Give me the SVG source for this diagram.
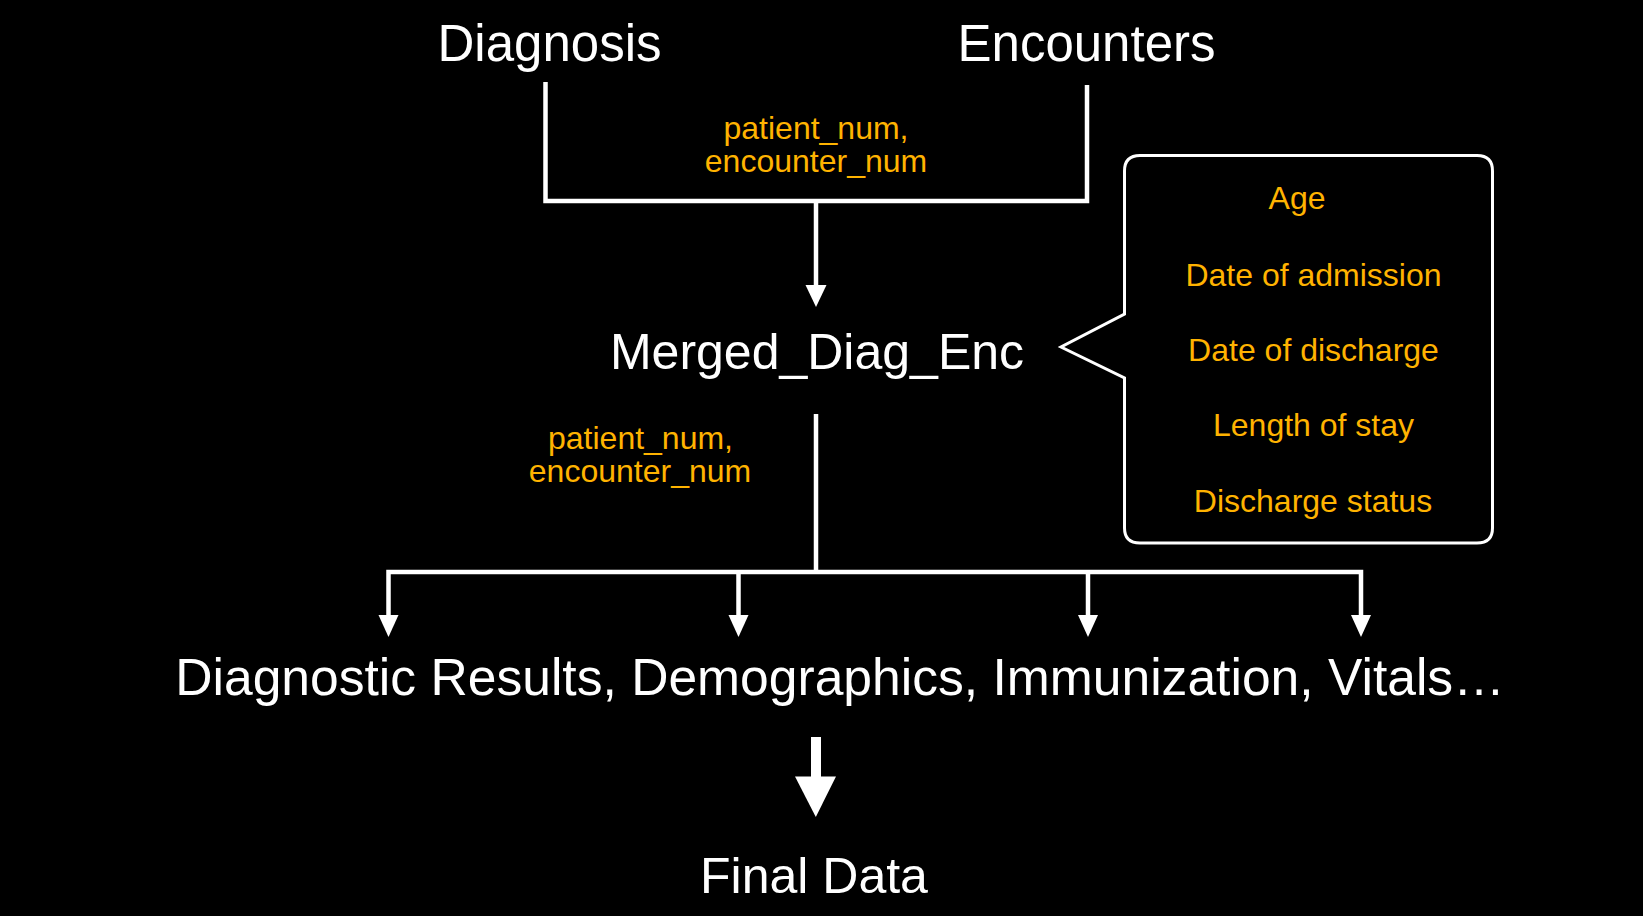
<svg xmlns="http://www.w3.org/2000/svg" width="1643" height="916" viewBox="0 0 1643 916">
<defs>
<style>
.t{font-family:"Liberation Sans",Arial,Helvetica,sans-serif;fill:#ffffff;text-anchor:middle}
.big{font-size:50px}
.o{font-family:"Liberation Sans",Arial,Helvetica,sans-serif;fill:#FFB300;text-anchor:middle;font-size:32px}
.ln{stroke:#ffffff;stroke-width:4.5;fill:none}
</style>
</defs>
<rect width="1643" height="916" fill="#000000"/>
<g id="connectors">
<polyline class="ln" points="545.5,82 545.5,201 1087,201 1087,85" stroke-linejoin="miter"/>
<line class="ln" x1="816" y1="201" x2="816" y2="285"/>
<path d="M805.5,285 L826.5,285 L816,307 Z" fill="#ffffff"/>
<line class="ln" x1="816" y1="414" x2="816" y2="572"/>
<polyline class="ln" points="388.5,615 388.5,572 1361,572 1361,615"/>
<line class="ln" x1="738.5" y1="572" x2="738.5" y2="615"/>
<line class="ln" x1="1088" y1="572" x2="1088" y2="615"/>
<path d="M378.5,615 L398.5,615 L388.5,637 Z" fill="#ffffff"/>
<path d="M728.5,615 L748.5,615 L738.5,637 Z" fill="#ffffff"/>
<path d="M1078,615 L1098,615 L1088,637 Z" fill="#ffffff"/>
<path d="M1351,615 L1371,615 L1361,637 Z" fill="#ffffff"/>
<rect x="811" y="737" width="10" height="41" fill="#ffffff"/>
<path d="M795,776.5 L836,776.5 L815.8,817 Z" fill="#ffffff"/>
</g>
<g id="diagnosis"><text class="t big" x="549.5" y="61" style="font-size:51px">Diagnosis</text></g>
<g id="encounters"><text class="t big" x="1086.5" y="61" style="font-size:51px">Encounters</text></g>
<g id="join-keys-1">
<text class="o" x="816" y="139">patient_num,</text>
<text class="o" x="816" y="172">encounter_num</text>
</g>
<g id="merged"><text class="t big" x="817" y="369">Merged_Diag_Enc</text></g>
<g id="callout">
<path d="M1140,155.5 L1477,155.5 Q1492.5,155.5 1492.5,171 L1492.5,528 Q1492.5,543 1477,543 L1140,543 Q1124.5,543 1124.5,528 L1124.5,378 L1061,347 L1124.5,314 L1124.5,171 Q1124.5,155.5 1140,155.5 Z" fill="#000000" stroke="#ffffff" stroke-width="3"/>
<text class="o" x="1297" y="209">Age</text>
<text class="o" x="1313.5" y="285.5">Date of admission</text>
<text class="o" x="1313.5" y="360.5">Date of discharge</text>
<text class="o" x="1313.5" y="436">Length of stay</text>
<text class="o" x="1313" y="511.5">Discharge status</text>
</g>
<g id="join-keys-2">
<text class="o" x="640.5" y="448.5">patient_num,</text>
<text class="o" x="640" y="482">encounter_num</text>
</g>
<g id="sources"><text class="t big" x="840" y="695" style="font-size:51.6px">Diagnostic Results, Demographics, Immunization, Vitals…</text></g>
<g id="final"><text class="t big" x="814" y="892.5">Final Data</text></g>
</svg>
